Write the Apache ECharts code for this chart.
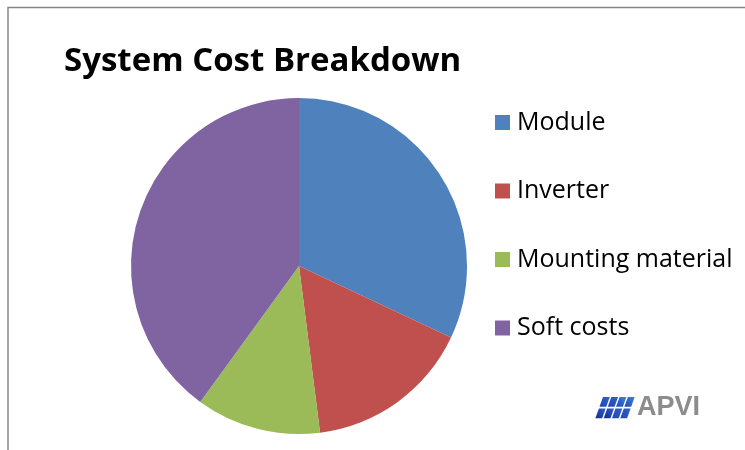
<!DOCTYPE html>
<html>
<head>
<meta charset="utf-8">
<script src="https://cdn.jsdelivr.net/npm/echarts@6/dist/echarts.min.js"></script>
<style>
  html, body { margin: 0; padding: 0; background: #ffffff; }
  #chart { width: 745px; height: 450px; }
</style>
</head>
<body>
<div id="chart"></div>
<script>
// Cost components and their shares of total system cost
const categories = ['Module', 'Inverter', 'Mounting material', 'Soft costs'];
const shares = [0.32, 0.16, 0.12, 0.40];
const colors = ['#4f81bd', '#c0504d', '#9bbb59', '#8064a2'];

const chart = echarts.init(document.getElementById('chart'));

// Slanted solar-panel grid for the APVI logo (4 columns x 2 rows)
function logoCells() {
  const cells = [];
  const x0 = 603, y0 = 397, h = 9.8, rowGap = 1.6, w = 6.8, colGap = 1.5, skew = 0.36;
  for (let r = 0; r < 2; r++) {
    const top = y0 + r * (h + rowGap);
    const bot = top + h;
    for (let c = 0; c < 4; c++) {
      const lx = x0 + c * (w + colGap) - (top - y0) * skew;
      cells.push({
        type: 'polygon',
        shape: { points: [
          [lx, top], [lx + w, top],
          [lx + w - h * skew, bot], [lx - h * skew, bot]
        ] },
        style: {
          fill: new echarts.graphic.LinearGradient(1, 0, 0, 1, [
            { offset: 0, color: r === 0 && c > 1 ? '#3a86e0' : '#2d62c8' },
            { offset: 1, color: r === 1 && c < 2 ? '#1a2590' : '#2444b0' }
          ])
        }
      });
    }
  }
  return cells;
}

chart.setOption({
  animation: false,
  title: {
    text: 'System Cost Breakdown',
    left: 64,
    top: 45,
    padding: 0,
    textStyle: {
      fontFamily: 'Open Sans',
      fontWeight: 'bold',
      fontSize: 33,
      color: '#000000'
    }
  },
  legend: {
    orient: 'vertical',
    left: 495,
    top: 110,
    padding: 0,
    itemWidth: 15,
    itemHeight: 15,
    itemGap: 43.5,
    icon: 'rect',
    data: categories,
    textStyle: {
      fontFamily: 'Open Sans',
      fontSize: 25,
      lineHeight: 25,
      color: '#000000',
      padding: [0, 0, 0, 2]
    }
  },
  graphic: [
    {
      type: 'polyline',
      shape: { points: [[8, 450], [8, 7.5], [745, 7.5]] },
      style: { stroke: '#868686', lineWidth: 1.5, fill: null }
    },
    ...logoCells(),
    {
      type: 'text',
      left: 637,
      top: 394,
      style: {
        text: 'APVI',
        fill: '#8c8c8c',
        font: 'bold 27px "Liberation Sans"'
      }
    }
  ],
  series: [{
    type: 'pie',
    center: [299, 266],
    radius: 168,
    startAngle: 90,
    clockwise: true,
    label: { show: false },
    labelLine: { show: false },
    emphasis: { disabled: true },
    itemStyle: { borderWidth: 0 },
    data: categories.map((name, i) => ({
      name,
      value: shares[i],
      itemStyle: { color: colors[i] }
    }))
  }]
});
</script>
</body>
</html>
